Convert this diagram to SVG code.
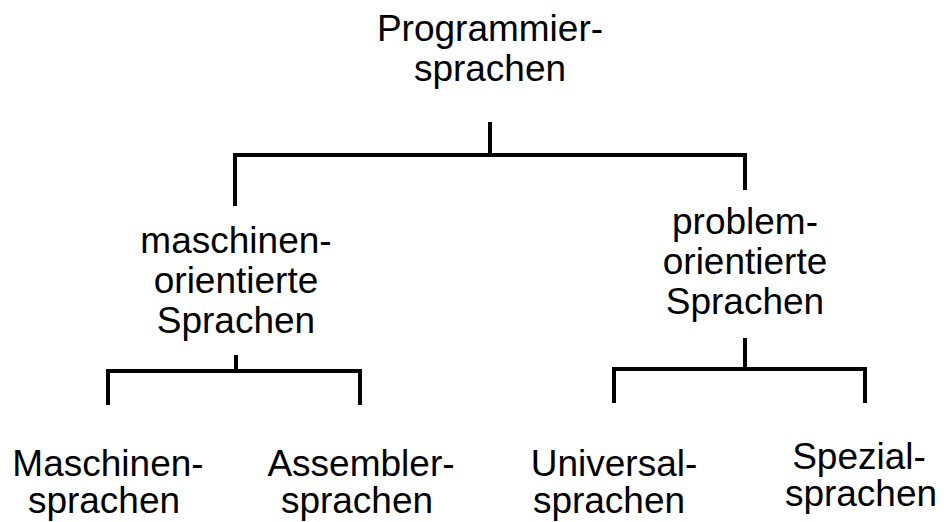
<svg xmlns="http://www.w3.org/2000/svg" width="944" height="522" viewBox="0 0 944 522">
<style>
text{font-family:"Liberation Sans",Arial,sans-serif;font-size:37px;fill:#000;text-anchor:middle}
.c{stroke:#000;stroke-width:4;fill:none;stroke-linecap:butt}
</style>
<rect width="944" height="522" fill="#fff"/>
<g id="connectors" class="c">
<path d="M490 122V155M235 206V155H745V190"/>
<path d="M236 355V371M108 405V371H360V405"/>
<path d="M745 338V369M614 403V369H865V403"/>
</g>
<g id="n-programmiersprachen"><text x="490" y="41">Programmier-</text><text x="490" y="81">sprachen</text></g>
<g id="n-maschinenorientiert"><text x="236" y="253">maschinen-</text><text x="236" y="293">orientierte</text><text x="236" y="333">Sprachen</text></g>
<g id="n-problemorientiert"><text x="745" y="234">problem-</text><text x="745" y="274">orientierte</text><text x="745" y="314">Sprachen</text></g>
<g id="n-maschinensprachen"><text x="108" y="476">Maschinen-</text><text x="104" y="513">sprachen</text></g>
<g id="n-assemblersprachen"><text x="361" y="476">Assembler-</text><text x="357" y="513">sprachen</text></g>
<g id="n-universalsprachen"><text x="614" y="476">Universal-</text><text x="609" y="513">sprachen</text></g>
<g id="n-spezialsprachen"><text x="859" y="469">Spezial-</text><text x="861" y="506">sprachen</text></g>
</svg>
